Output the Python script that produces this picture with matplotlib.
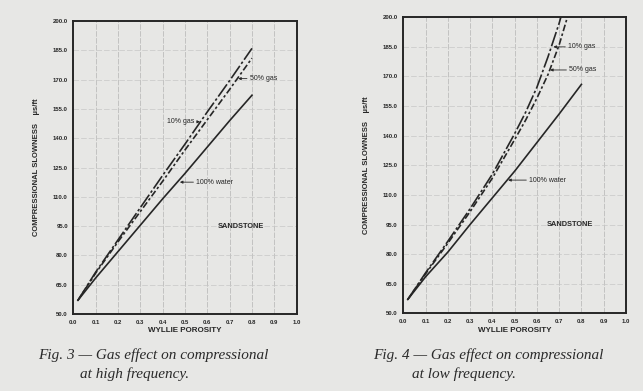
import matplotlib.pyplot as plt
from matplotlib.ticker import FormatStrFormatter

# Fig. 3 - high frequency (Wyllie porosity vs compressional slowness)
hf_phi = [0.02, 0.1, 0.2, 0.3, 0.4, 0.5, 0.6, 0.7, 0.8]
hf_water = [57.0, 68.5, 82.0, 95.5, 109.0, 122.0, 135.5, 149.0, 162.0]
hf_gas10 = [57.0, 71.5, 88.0, 104.5, 121.0, 137.0, 153.5, 169.5, 186.0]
hf_gas50 = [57.0, 71.0, 87.0, 102.5, 118.0, 134.0, 149.5, 165.0, 181.0]

# Fig. 4 - low frequency
lf_water_phi = [0.02, 0.1, 0.2, 0.3, 0.4, 0.5, 0.6, 0.7, 0.8]
lf_water = [57.0, 68.5, 81.0, 95.0, 108.5, 122.0, 136.5, 151.0, 166.0]
lf_gas_phi = [0.02, 0.1, 0.2, 0.3, 0.4, 0.5, 0.55, 0.6, 0.65, 0.7, 0.75]
lf_gas10 = [57.0, 70.5, 86.5, 103.0, 120.5, 141.0, 152.0, 164.5, 180.0, 197.0, 217.0]
lf_gas50 = [57.0, 70.0, 85.5, 101.5, 118.5, 138.0, 148.0, 159.0, 171.0, 186.0, 205.0]

xticks = [0.0, 0.1, 0.2, 0.3, 0.4, 0.5, 0.6, 0.7, 0.8, 0.9, 1.0]
yticks = [50, 65, 80, 95, 110, 125, 140, 155, 170, 185, 200]

BG = '#e7e7e5'
INK = '#262626'
SANS = 'Liberation Sans'

fig = plt.figure(figsize=(6.43, 3.91), dpi=100, facecolor=BG)
ax1 = fig.add_axes([0.1142, 0.1969, 0.3471, 0.7494])
ax2 = fig.add_axes([0.6272, 0.1987, 0.3463, 0.7571])


def style_axes(ax):
    ax.set_facecolor(BG)
    ax.set_xlim(0, 1.0)
    ax.set_ylim(50, 200)
    ax.set_xticks(xticks)
    ax.set_yticks(yticks)
    ax.xaxis.set_major_formatter(FormatStrFormatter('%.1f'))
    ax.yaxis.set_major_formatter(FormatStrFormatter('%.1f'))
    ax.tick_params(length=0, pad=4, labelsize=4.3, colors=INK)
    for lab in ax.get_xticklabels() + ax.get_yticklabels():
        lab.set_fontweight('bold')
        lab.set_family(SANS)
    ax.grid(True, axis='x', color='#b4b4b4', lw=0.5, ls=(0, (8, 2)))
    ax.grid(True, axis='y', color='#c6c6c6', lw=0.5, ls=(0, (8, 3)))
    for sp in ax.spines.values():
        sp.set_linewidth(1.4)
        sp.set_color(INK)
    ax.set_xlabel('WYLLIE POROSITY', fontsize=5.8, fontweight='bold',
                  family=SANS, color=INK, labelpad=2)
    ax.set_ylabel('COMPRESSIONAL SLOWNESS    µs/ft', fontsize=5.5,
                  fontweight='bold', family=SANS, color=INK, labelpad=9)
    ax.text(0.75, 95, 'SANDSTONE', fontsize=5.3, family=SANS,
            fontweight='bold', color=INK, ha='center', va='center')


def note(ax, txt, xy, xytext):
    ax.annotate(txt, xy=xy, xytext=xytext, fontsize=5, family=SANS,
                color=INK, va='center', ha='left',
                arrowprops=dict(arrowstyle='-|>', lw=0.6, color=INK,
                                mutation_scale=4, shrinkA=0, shrinkB=0))


style_axes(ax1)
ax1.plot(hf_phi, hf_water, color=INK, lw=1.2)
ax1.plot(hf_phi, hf_gas10, color=INK, lw=1.2, ls=(0, (9, 1.5, 1.5, 1.5)))
ax1.plot(hf_phi, hf_gas50, color=INK, lw=1.2, ls=(0, (4, 1.5, 1.5, 1.5)))
note(ax1, '10% gas', (0.567, 148.4), (0.42, 148.4))
note(ax1, '50% gas', (0.738, 170.5), (0.79, 170.5))
note(ax1, '100% water', (0.477, 117.5), (0.55, 117.5))

style_axes(ax2)
ax2.plot(lf_water_phi, lf_water, color=INK, lw=1.2)
ax2.plot(lf_gas_phi, lf_gas10, color=INK, lw=1.2, ls=(0, (9, 1.5, 1.5, 1.5)))
ax2.plot(lf_gas_phi, lf_gas50, color=INK, lw=1.2, ls=(0, (4, 1.5, 1.5, 1.5)))
note(ax2, '10% gas', (0.674, 185.0), (0.74, 185.0))
note(ax2, '50% gas', (0.659, 173.3), (0.745, 173.3))
note(ax2, '100% water', (0.471, 117.5), (0.565, 117.5))

cap = dict(fontsize=11, family='Liberation Serif', style='italic',
           color='#2a2a2a', va='center', ha='left')
fig.text(38 / 643, 1 - 355 / 391, 'Fig. 3 \u2014 Gas effect on compressional', **cap)
fig.text(80 / 643, 1 - 374 / 391, 'at high frequency.', **cap)
fig.text(373 / 643, 1 - 355 / 391, 'Fig. 4 \u2014 Gas effect on compressional', **cap)
fig.text(412 / 643, 1 - 374 / 391, 'at low frequency.', **cap)

fig.savefig('out.png', dpi=100, facecolor=BG)
